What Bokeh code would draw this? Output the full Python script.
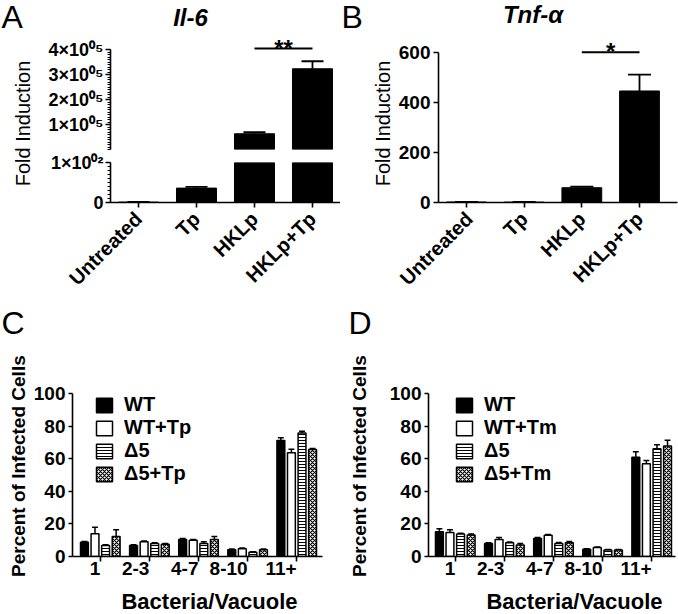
import math
import numpy as np
from bokeh.plotting import figure
from bokeh.layouts import row, column
from bokeh.models import (Range1d, FixedTicker, Label, Legend, LegendItem,
                          ColumnDataSource)
from bokeh.core.properties import value
from bokeh.embed import file_html
from bokeh.resources import INLINE

FONT = "Liberation Sans"

# ---------------- data ----------------
treatments = ["Untreated", "Tp", "HKLp", "HKLp+Tp"]

il6_fold = [1, 36, 63000, 323000]
il6_err = [0.5, 3, 6000, 30000]
il6_lower_ticks = [0, 100]
il6_lower_labels = ["0", "1×10⁰²"]
il6_upper_ticks = [100000, 200000, 300000, 400000]
il6_upper_labels = ["1×10⁰⁵", "2×10⁰⁵", "3×10⁰⁵", "4×10⁰⁵"]
il6_sig_pair = ["HKLp", "HKLp+Tp"]
il6_sig_level = 404000
il6_sig_mark = "**"

tnf_fold = [2, 1.5, 59, 445]
tnf_err = [0.5, 0.5, 4, 65]
tnf_ticks = [0, 200, 400, 600]
tnf_sig_pair = ["HKLp", "HKLp+Tp"]
tnf_sig_level = 600
tnf_sig_mark = "*"

vac_bins = ["1", "2-3", "4-7", "8-10", "11+"]
pct_ticks = [0, 20, 40, 60, 80, 100]

c_names = ["WT", "WT+Tp", "Δ5", "Δ5+Tp"]
c_wt = [8.7, 6.7, 10.5, 4.1, 71.4]
c_wt_err = [0.6, 0.5, 0.5, 0.5, 1.6]
c_wttp = [14.0, 9.0, 10.0, 4.7, 63.9]
c_wttp_err = [4.0, 0.5, 0.5, 0.5, 2.1]
c_d5 = [6.7, 8.0, 8.0, 2.6, 76.0]
c_d5_err = [0.5, 0.5, 1.0, 0.3, 1.0]
c_d5tp = [12.3, 7.5, 10.5, 4.1, 65.9]
c_d5tp_err = [4.1, 0.5, 1.8, 0.5, 0.6]

d_names = ["WT", "WT+Tm", "Δ5", "Δ5+Tm"]
d_wt = [15.3, 8.0, 11.0, 4.5, 61.0]
d_wt_err = [1.7, 0.5, 0.7, 0.3, 3.5]
d_wttm = [14.7, 10.5, 13.0, 5.5, 57.0]
d_wttm_err = [1.7, 1.2, 0.5, 0.4, 2.0]
d_d5 = [13.9, 8.5, 8.0, 4.0, 66.3]
d_d5_err = [0.4, 0.4, 0.6, 0.3, 2.5]
d_d5tm = [13.3, 7.0, 8.5, 4.0, 68.0]
d_d5tm_err = [0.6, 1.0, 0.7, 0.3, 3.5]


# ---------------- helpers ----------------
def base_fig(w, h, xr, yr, ml, mr, mt, mb, xloc="below", yloc="left"):
    p = figure(width=w, height=h, x_range=xr, y_range=yr,
               output_backend="svg", toolbar_location=None,
               x_axis_location=xloc, y_axis_location=yloc,
               min_border_left=ml, min_border_right=mr,
               min_border_top=mt, min_border_bottom=mb)
    p.outline_line_color = None
    p.background_fill_color = "white"
    p.border_fill_color = "white"
    p.grid.visible = False
    return p


def text_fig(w, h, texts, ml=0, mr=0):
    """A figure holding free text; label x is measured from its frame's left."""
    p = figure(width=w, height=h, x_range=Range1d(0, 1), y_range=Range1d(0, 1),
               output_backend="svg", toolbar_location=None,
               x_axis_location=None, y_axis_location=None,
               min_border_left=ml, min_border_right=mr,
               min_border_top=0, min_border_bottom=0)
    p.outline_line_color = None
    p.grid.visible = False
    p.background_fill_color = "white"
    p.border_fill_color = "white"
    for t in texts:
        x, y, text, size = t[:4]
        opts = t[4] if len(t) > 4 else {}
        p.add_layout(Label(x=x, y=y, x_units="screen", y_units="screen",
                           text=text, text_font=FONT, text_font_size=size,
                           text_color="black",
                           text_font_style=opts.get("style", "normal"),
                           angle=opts.get("angle", 0.0),
                           text_align=opts.get("align", "left"),
                           text_baseline="middle"))
    return p


def style_axis(ax, size="19px", tick_out=5, standoff=3):
    ax.axis_line_width = 1.6
    ax.axis_line_color = "black"
    ax.major_tick_line_width = 1.6
    ax.major_tick_line_color = "black"
    ax.major_tick_in = 0
    ax.major_tick_out = tick_out
    ax.minor_tick_in = 0
    ax.minor_tick_out = 3
    ax.minor_tick_line_width = 1
    ax.minor_tick_line_color = "black"
    ax.major_label_text_font = FONT
    ax.major_label_text_font_style = "bold"
    ax.major_label_text_font_size = size
    ax.major_label_text_color = "black"
    ax.major_label_standoff = standoff


def cat_axis(ax, cats, angle=0.0):
    idx = list(range(len(cats)))
    ax.ticker = FixedTicker(ticks=idx)
    ax.major_label_overrides = {i: c for i, c in zip(idx, cats)}
    ax.major_label_orientation = angle


def sig_bar(p, pair, level, mark, size, yoff):
    i0 = treatments.index(pair[0])
    i1 = treatments.index(pair[1])
    p.segment(x0=[i0], y0=[level], x1=[i1], y1=[level],
              line_color="black", line_width=2)
    p.text(x=[(i0 + i1) / 2], y=[level], text=[mark],
           text_font=value(FONT), text_font_style="bold",
           text_font_size=size, text_align="center",
           text_baseline="alphabetic", y_offset=yoff, text_color="black")


def treat_bars(p, vals, errs, keep=None, bar_w=0.69, cap=0.19):
    xs = list(range(len(vals)))
    if keep is None:
        keep = [True] * len(vals)
    sel = [i for i in xs if keep[i]]
    src = ColumnDataSource(dict(
        x=[xs[i] for i in sel],
        top=[vals[i] for i in sel],
        etop=[vals[i] + errs[i] for i in sel],
        cl=[xs[i] - cap for i in sel],
        cr=[xs[i] + cap for i in sel],
    ))
    p.segment(x0="x", y0="top", x1="x", y1="etop", source=src,
              line_color="black", line_width=1.8)
    p.segment(x0="cl", y0="etop", x1="cr", y1="etop", source=src,
              line_color="black", line_width=1.8)
    p.vbar(x="x", top="top", bottom=0, width=bar_w, source=src,
           fill_color="black", line_color="black", line_width=1)


def grouped(p, names, series, errs, legend_loc):
    n = len(vac_bins)
    xs = np.arange(n)
    offsets = [-0.323, -0.108, 0.108, 0.323]
    styles = [
        dict(fill_color="black"),
        dict(fill_color="white"),
        dict(fill_color="white", hatch_pattern=value("horizontal_line"),
             hatch_color="black", hatch_scale=3, hatch_weight=1),
        dict(fill_color="white", hatch_pattern=value("diagonal_cross"),
             hatch_color="black", hatch_scale=4, hatch_weight=1.2),
    ]
    items = []
    for name, vals, err, off, st in zip(names, series, errs, offsets, styles):
        x = xs + off
        top = np.array(vals)
        et = top + np.array(err)
        cap = 0.06
        p.segment(x0=x, y0=top, x1=x, y1=et, line_color="black", line_width=1.5)
        p.segment(x0=x - cap, y0=et, x1=x + cap, y1=et,
                  line_color="black", line_width=1.5)
        r = p.vbar(x=x, top=top, bottom=0, width=0.16,
                   line_color="black", line_width=1.5, **st)
        items.append(LegendItem(label=name, renderers=[r]))
    leg = Legend(items=items, location=legend_loc, padding=0, margin=0,
                 spacing=0, glyph_width=20, glyph_height=18,
                 label_standoff=10, label_height=18,
                 label_text_font=FONT, label_text_font_style="bold",
                 label_text_font_size="20px", label_text_color="black",
                 border_line_color=None, background_fill_alpha=0)
    p.add_layout(leg)


ROT = dict(angle=math.pi / 2, align="center")

# ---------------- panel A ----------------
labA = text_fig(40, 300, [
    (1, 283.5, "A", "32px"),
    (22, 177, "Fold Induction", "20px", ROT),
])
titleA = text_fig(300, 30, [
    (80, 13.5, "Il-6", "24px", dict(style="bold italic", align="center")),
], ml=70, mr=0)

xa = Range1d(-0.483, 3.483)
pa1 = base_fig(300, 122, xa, Range1d(0, 476000), 70, 0, 0, 3, xloc=None)
ya1 = pa1.yaxis[0]
style_axis(ya1, size="18px", standoff=2)
ya1.ticker = FixedTicker(ticks=il6_upper_ticks,
                         minor_ticks=list(np.arange(0, 400001, 10000)))
ya1.major_label_overrides = dict(zip(il6_upper_ticks, il6_upper_labels))
ya1.bounds = (0, 400000)
upper_keep = [v > il6_lower_ticks[-1] for v in il6_fold]
treat_bars(pa1, il6_fold, il6_err, keep=upper_keep)
sig_bar(pa1, il6_sig_pair, il6_sig_level, il6_sig_mark, "24px", 0)

pa2 = base_fig(300, 148, xa, Range1d(0, 100), 70, 0, 10, 97)
ya2 = pa2.yaxis[0]
style_axis(ya2, size="18px", standoff=2)
ya2.ticker = FixedTicker(ticks=il6_lower_ticks,
                         minor_ticks=list(np.arange(0, 101, 10)))
ya2.major_label_overrides = dict(zip(il6_lower_ticks, il6_lower_labels))
xa2 = pa2.xaxis[0]
style_axis(xa2, size="20px", standoff=8)
cat_axis(xa2, treatments, math.pi / 4)
treat_bars(pa2, il6_fold, il6_err)

blockA = row(labA, column(titleA, pa1, pa2))

# ---------------- panel B ----------------
labB = text_fig(55, 300, [
    (1, 283.5, "B", "32px"),
    (42.5, 177, "Fold Induction", "20px", ROT),
])
titleB = text_fig(283, 30, [
    (94.5, 16.5, "Tnf-α", "24px", dict(style="bold italic", align="center")),
], ml=43, mr=1)
pb = base_fig(283, 270, Range1d(-0.4855, 3.659), Range1d(0, 686.3), 43, 1, 0, 95)
yb = pb.yaxis[0]
style_axis(yb, standoff=3)
yb.ticker = FixedTicker(ticks=tnf_ticks)
yb.bounds = (0, 600)
xb = pb.xaxis[0]
style_axis(xb, size="20px", standoff=8)
cat_axis(xb, treatments, math.pi / 4)
treat_bars(pb, tnf_fold, tnf_err, cap=0.2)
sig_bar(pb, tnf_sig_pair, tnf_sig_level, tnf_sig_mark, "24px", -1)

blockB = row(labB, column(titleB, pb))

# ---------------- panel C ----------------
labC = text_fig(30, 314, [
    (1, 291.5, "C", "32px"),
    (18, 151, "Percent of Infected  Cells", "19px", dict(ROT, style="bold")),
])
pc = base_fig(310, 288, Range1d(-0.566, 4.525), Range1d(0, 106.46), 40, 18, 83, 32)
yc = pc.yaxis[0]
style_axis(yc, tick_out=4, standoff=3)
yc.ticker = FixedTicker(ticks=pct_ticks)
yc.bounds = (0, 100)
xc = pc.xaxis[0]
style_axis(xc, size="19px", tick_out=5, standoff=7)
cat_axis(xc, vac_bins)
grouped(pc, c_names, [c_wt, c_wttp, c_d5, c_d5tp],
        [c_wt_err, c_wttp_err, c_d5_err, c_d5tp_err], (22, 71))
xlabC = text_fig(310, 26, [
    (137, 13, "Bacteria/Vacuole", "22px", dict(style="bold", align="center")),
], ml=40, mr=18)
blockC = row(labC, column(pc, xlabC))

# ---------------- panel D ----------------
labD = text_fig(46, 314, [
    (8, 291.5, "D", "32px"),
    (19, 151, "Percent of Infected  Cells", "19px", dict(ROT, style="bold")),
])
pd_ = base_fig(292, 288, Range1d(-0.545, 4.485), Range1d(0, 106.46), 40, 3, 83, 32)
yd = pd_.yaxis[0]
style_axis(yd, tick_out=4, standoff=3)
yd.ticker = FixedTicker(ticks=pct_ticks)
yd.bounds = (0, 100)
xd = pd_.xaxis[0]
style_axis(xd, size="19px", tick_out=5, standoff=7)
cat_axis(xd, vac_bins)
grouped(pd_, d_names, [d_wt, d_wttm, d_d5, d_d5tm],
        [d_wt_err, d_wttm_err, d_d5_err, d_d5tm_err], (26, 71))
xlabD = text_fig(292, 26, [
    (146, 13, "Bacteria/Vacuole", "22px", dict(style="bold", align="center")),
], ml=40, mr=3)
blockD = row(labD, column(pd_, xlabD))

root = column(row(blockA, blockB), row(blockC, blockD))

open("out.html", "w").write(file_html(root, INLINE))
